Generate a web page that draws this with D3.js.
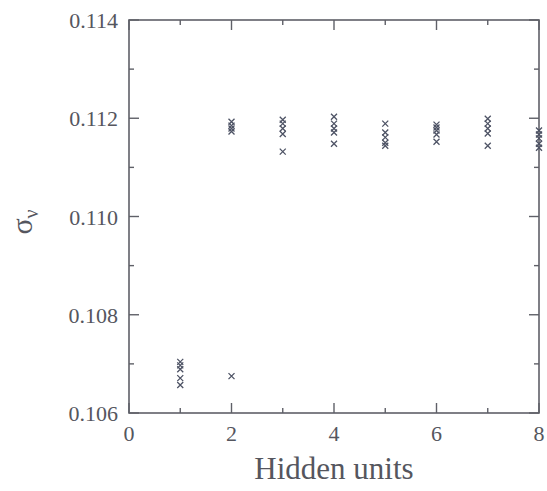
<!DOCTYPE html>
<html><head><meta charset="utf-8">
<script src="https://cdn.jsdelivr.net/npm/d3@7"></script>
<style>body{margin:0;background:#fff}</style>
</head><body>
<svg id="c" width="547" height="491"></svg>
<script>
const hiddenUnits = [1, 2, 3, 4, 5, 6, 7, 8];
const sigmaRuns = [
  [0.10704, 0.10697, 0.10689, 0.10671, 0.10657],
  [0.11193, 0.11185, 0.11179, 0.11173, 0.10675],
  [0.11197, 0.11189, 0.11179, 0.11168, 0.11132],
  [0.11203, 0.11189, 0.11179, 0.11171, 0.11148],
  [0.11189, 0.11171, 0.11161, 0.11150, 0.11144],
  [0.11187, 0.11181, 0.11175, 0.11167, 0.11152],
  [0.11199, 0.11189, 0.11179, 0.11169, 0.11144],
  [0.11175, 0.11167, 0.11159, 0.11148, 0.11140]
];
const xTicks = [0, 2, 4, 6, 8];
const yTicks = [0.106, 0.108, 0.110, 0.112, 0.114];
const xMinor = [1, 3, 5, 7];
const yMinor = [0.107, 0.109, 0.111, 0.113];

const svg = d3.select("#c");
const L = 129, R = 539, T = 20, B = 413;
const x = d3.scaleLinear().domain([0, 8]).range([L, R]);
const y = d3.scaleLinear().domain([0.106, 0.114]).range([B, T]);
const axisColor = "#5f6068";
const textColor = "#55565e";
const font = "'Liberation Serif', 'Times New Roman', serif";

// frame
svg.append("rect").attr("x", L).attr("y", T).attr("width", R - L).attr("height", B - T)
  .attr("fill", "none").attr("stroke", axisColor).attr("stroke-width", 1.6);

const g = svg.append("g").attr("stroke", axisColor).attr("stroke-width", 1.4);
const maj = 10, mnr = 5;
xTicks.concat(xMinor).forEach(v => {
  const len = xTicks.includes(v) ? maj : mnr;
  g.append("line").attr("x1", x(v)).attr("x2", x(v)).attr("y1", B).attr("y2", B - len);
  g.append("line").attr("x1", x(v)).attr("x2", x(v)).attr("y1", T).attr("y2", T + len);
});
yTicks.concat(yMinor).forEach(v => {
  const len = yTicks.includes(v) ? maj : mnr;
  g.append("line").attr("y1", y(v)).attr("y2", y(v)).attr("x1", L).attr("x2", L + len);
  g.append("line").attr("y1", y(v)).attr("y2", y(v)).attr("x1", R).attr("x2", R - len);
});

// tick labels
svg.append("g").selectAll("text").data(xTicks).join("text")
  .attr("x", d => x(d)).attr("y", 441).attr("text-anchor", "middle")
  .attr("font-family", font).attr("font-size", 22).attr("fill", textColor)
  .text(d => d);
svg.append("g").selectAll("text").data(yTicks).join("text")
  .attr("x", 118).attr("y", d => y(d) + 8).attr("text-anchor", "end")
  .attr("font-family", font).attr("font-size", 22).attr("fill", textColor)
  .text(d => d3.format(".3f")(d));

// axis titles
svg.append("text").attr("x", 334).attr("y", 479).attr("text-anchor", "middle")
  .attr("font-family", font).attr("font-size", 31).attr("fill", textColor)
  .text("Hidden units");
const yl = svg.append("text").attr("transform", "translate(32,222) rotate(-90)")
  .attr("text-anchor", "middle").attr("font-family", font).attr("fill", textColor);
yl.append("tspan").attr("font-size", 30).text("σ");
yl.append("tspan").attr("font-size", 20).attr("dy", 6).text("ν");

// data markers
const pts = [];
hiddenUnits.forEach((h, i) => sigmaRuns[i].forEach(v => pts.push([h, v])));
const s = 3;
svg.append("g").attr("stroke", "#4d5264").attr("stroke-width", 1.3)
  .selectAll("path").data(pts).join("path")
  .attr("d", d => {
    const cx = x(d[0]), cy = y(d[1]);
    return `M${cx - s},${cy - s}L${cx + s},${cy + s}M${cx - s},${cy + s}L${cx + s},${cy - s}`;
  });
</script>
</body></html>
